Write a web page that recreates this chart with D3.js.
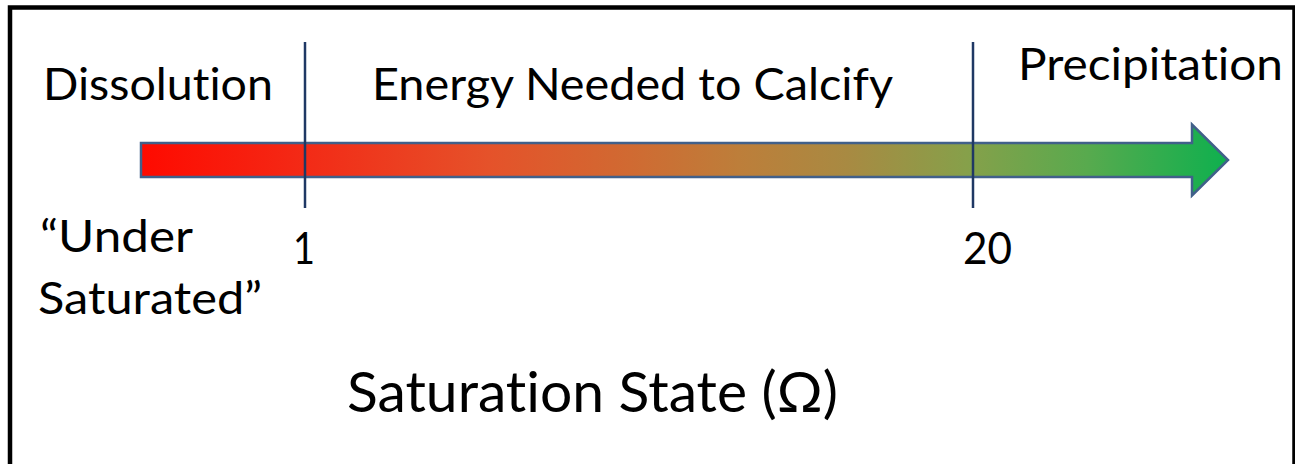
<html>
<script src="https://d3js.org/d3.v7.min.js"></script>
<style>
  body { margin: 0; background: #fff; }
  text { font-family: Lato, "Open Sans", sans-serif; fill: #000;
         font-variant-ligatures: none; font-feature-settings: "liga" 0, "clig" 0; }
</style>
<body>
<div id="chart"></div>
<script>
// saturation thresholds and labels
const thresholds = [1, 20];
const thresholdLabels = ["1", "20"];
const regionLabels = ["Dissolution", "Energy Needed to Calcify", "Precipitation"];
const underLabel = ["\u201CUnder", "Saturated\u201D"];
const axisTitle = "Saturation State (\u03A9)";

const W = 1295, H = 464;
const svg = d3.select("#chart").append("svg")
  .attr("width", W).attr("height", H);

// frame (bottom edge runs off the picture)
svg.append("rect")
  .attr("x", 10).attr("y", 7.5)
  .attr("width", 1284.5).attr("height", 520)
  .attr("fill", "none").attr("stroke", "#000").attr("stroke-width", 4.5);

const x = d3.scaleLinear().domain(thresholds).range([305, 973]);

// gradient for the arrow
const grad = svg.append("defs").append("linearGradient")
  .attr("id", "omegaGrad")
  .attr("gradientUnits", "userSpaceOnUse")
  .attr("x1", 141).attr("x2", 1228).attr("y1", 0).attr("y2", 0);
const stops = [
  [0, "#ff0a00"], [0.15, "#f32a16"], [0.32, "#e5522a"], [0.45, "#d06a32"],
  [0.55, "#bd7e3a"], [0.65, "#a88a42"], [0.76, "#86a04a"], [0.87, "#58aa4e"],
  [1, "#0eb04e"]
];
grad.selectAll("stop").data(stops).enter().append("stop")
  .attr("offset", d => d[0]).attr("stop-color", d => d[1]);

// arrow
const ax0 = 141, ax1 = 1228, headX = 1192, cy = 160, bodyH = 34, headH = 71;
const arrowPts = [
  [ax0, cy - bodyH / 2], [headX, cy - bodyH / 2], [headX, cy - headH / 2],
  [ax1, cy], [headX, cy + headH / 2], [headX, cy + bodyH / 2], [ax0, cy + bodyH / 2]
];
svg.append("path")
  .attr("d", d3.line()(arrowPts) + "Z")
  .attr("fill", "url(#omegaGrad)")
  .attr("stroke", "#41608a").attr("stroke-width", 2.5)
  .attr("stroke-linejoin", "miter");

// threshold lines
svg.selectAll("line.thr").data(thresholds).enter().append("line")
  .attr("class", "thr")
  .attr("x1", d => x(d)).attr("x2", d => x(d))
  .attr("y1", 42).attr("y2", 208)
  .attr("stroke", "#1f3864").attr("stroke-width", 2.5);

// helper: text fitted to a measured width
function label(str, tx, ty, size, width) {
  const t = svg.append("text")
    .attr("x", tx).attr("y", ty)
    .style("font-size", size + "px")
    .text(str);
  if (width) t.attr("textLength", width).attr("lengthAdjust", "spacingAndGlyphs");
  return t;
}

// region labels
const regionPos = [[43, 100, 230], [372, 100, 521], [1018, 80, 265]];
regionLabels.forEach((s, i) => label(s, regionPos[i][0], regionPos[i][1], 44, regionPos[i][2]));

// threshold values
thresholdLabels.forEach((s, i) => {
  const w = s.length === 1 ? 22 : 49;
  label(s, x(thresholds[i]) - (i === 0 ? 12 : 10), 264, 44, w);
});

// under saturated
label(underLabel[0], 40, 252, 44, 153);
label(underLabel[1], 38, 314, 44, 224);

// title
label(axisTitle, 347, 412, 56, 491);
</script>
</body>
</html>
